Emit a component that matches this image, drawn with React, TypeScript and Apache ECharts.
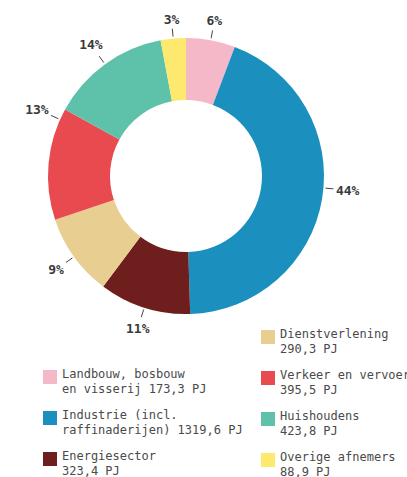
import React, { useEffect, useRef } from "react";
import * as echarts from "echarts";

const categories = [
  "Landbouw, bosbouw en visserij",
  "Industrie (incl. raffinaderijen)",
  "Energiesector",
  "Dienstverlening",
  "Verkeer en vervoer",
  "Huishoudens",
  "Overige afnemers",
];
const values = [173.3, 1319.6, 323.4, 290.3, 395.5, 423.8, 88.9];
const percentLabels = ["6%", "44%", "11%", "9%", "13%", "14%", "3%"];
const legendLine1 = [
  "Landbouw, bosbouw",
  "Industrie (incl.",
  "Energiesector",
  "Dienstverlening",
  "Verkeer en vervoer",
  "Huishoudens",
  "Overige afnemers",
];
const legendLine2 = [
  "en visserij 173,3 PJ",
  "raffinaderijen) 1319,6 PJ",
  "323,4 PJ",
  "290,3 PJ",
  "395,5 PJ",
  "423,8 PJ",
  "88,9 PJ",
];
const colors = ["#F4B8C8", "#1B90BF", "#6E1E1C", "#E8CF91", "#E84A4F", "#5EC2AA", "#FCE96E"];

const leftLegend = [0, 1, 2];
const rightLegend = [3, 4, 5, 6];

const CX = 186;
const CY = 176;

export default function App() {
  const ref = useRef<HTMLDivElement>(null);
  useEffect(() => {
    if (!ref.current) return;
    const chart = echarts.init(ref.current, null, { renderer: "svg" });
    const font = "'DejaVu Sans Mono', 'Liberation Mono', monospace";
    const legendText = {
      fontFamily: font,
      fontSize: 12,
      lineHeight: 15,
      color: "#4a4a4a",
      rich: {
        s: { fontSize: 1, lineHeight: 8 },
        t: { fontFamily: font, fontSize: 12, lineHeight: 15, color: "#4a4a4a" },
      },
    };
    const fmt = (name: string) => {
      const i = categories.indexOf(name);
      return "{s| }\n{t|" + legendLine1[i] + "}\n{t|" + legendLine2[i] + "}";
    };
    const legendBase = {
      orient: "vertical",
      itemWidth: 14,
      itemHeight: 14,
      itemGap: 3,
      padding: 0,
      height: 220,
      icon: "rect",
      selectedMode: false,
      formatter: fmt,
      textStyle: legendText,
    };
    // small label nudges along the ring (degrees, clockwise) as in the original layout
    const nudge: Record<number, number> = { 1: -4.5, 4: 19 };
    chart.setOption({
      animation: false,
      color: colors,
      legend: [
        { ...legendBase, left: 43, top: 358, data: leftLegend.map((i) => categories[i]) },
        { ...legendBase, left: 261, top: 318, data: rightLegend.map((i) => categories[i]) },
      ],
      series: [
        {
          type: "pie",
          center: [CX, CY],
          radius: [76, 138],
          startAngle: 90,
          clockwise: true,
          avoidLabelOverlap: false,
          data: categories.map((name, i) => ({ name, value: values[i] })),
          label: {
            show: true,
            position: "outside",
            formatter: (p: any) => percentLabels[p.dataIndex],
            fontFamily: font,
            fontWeight: "bold",
            fontSize: 13,
            color: "#3a3a3a",
          },
          labelLine: {
            show: true,
            length: 8,
            length2: 0,
            lineStyle: { color: "#444", width: 1 },
          },
          labelLayout: (params: any) => {
            const pts = params.labelLinePoints;
            if (!pts) return {};
            const p0 = pts[0];
            let dx = p0[0] - CX;
            let dy = p0[1] - CY;
            const len = Math.hypot(dx, dy) || 1;
            dx /= len;
            dy /= len;
            const phi = ((nudge[params.dataIndex] || 0) * Math.PI) / 180;
            const rx = dx * Math.cos(phi) - dy * Math.sin(phi);
            const ry = dx * Math.sin(phi) + dy * Math.cos(phi);
            dx = rx;
            dy = ry;
            const s = [CX + dx * (len + 2), CY + dy * (len + 2)];
            const e = [CX + dx * (len + 10), CY + dy * (len + 10)];
            const w = params.labelRect.width;
            const h = params.labelRect.height;
            const off = 2 + (Math.abs(dx) * w) / 2 + (Math.abs(dy) * h) / 2;
            return {
              x: e[0] + dx * off,
              y: e[1] + dy * off,
              align: "center",
              verticalAlign: "middle",
              labelLinePoints: [s, e, e],
            };
          },
          itemStyle: { borderWidth: 0 },
          emphasis: { disabled: true },
        },
      ],
    });
    return () => chart.dispose();
  }, []);
  return (
    <div
      ref={ref}
      style={{ position: "fixed", left: 0, top: 0, width: 407, height: 477, background: "#fff" }}
    />
  );
}
